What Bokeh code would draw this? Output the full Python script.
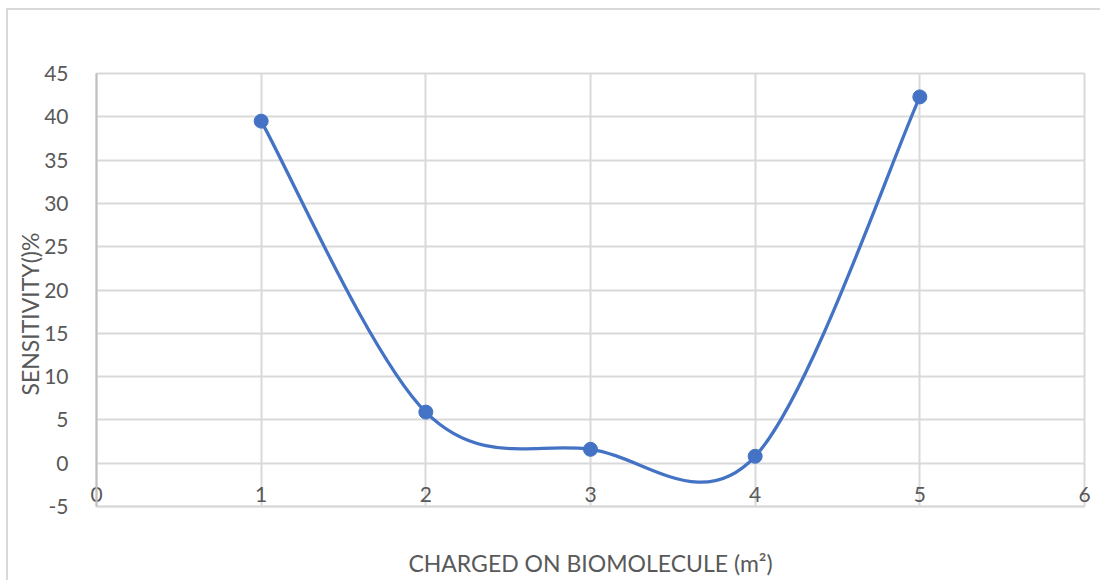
from bokeh.plotting import figure
from bokeh.models import Range1d, FixedTicker, Title
from bokeh.embed import file_html
from bokeh.resources import INLINE

# Sensitivity (%) against charge on the biomolecule
charge = [1, 2, 3, 4, 5]
sensitivity = [39.5, 5.9, 1.6, 0.8, 42.3]

x_ticks = [0, 1, 2, 3, 4, 5, 6]
y_ticks = [-5, 0, 5, 10, 15, 20, 25, 30, 35, 40, 45]

LINE = "#4472C4"
GRID = "#d9d9d9"
TEXT = "#595959"
FONT = "Lato"

p = figure(
    width=1094, height=572,
    x_range=Range1d(0, 6), y_range=Range1d(-5, 45),
    output_backend="svg", toolbar_location=None,
    min_border_left=88, min_border_top=63,
    min_border_right=18, min_border_bottom=76,
)
p.styles = {
    "margin-left": "6px", "margin-top": "8px",
    "border-left": f"2px solid {GRID}", "border-top": f"2px solid {GRID}",
}
p.outline_line_color = GRID
p.outline_line_width = 2

# smooth curve through the points (cardinal spline as cubic Beziers)
n = len(charge)
bx0, by0, bx1, by1, cx0, cy0, cx1, cy1 = ([] for _ in range(8))
for i in range(n - 1):
    a = max(i - 1, 0)
    b = min(i + 2, n - 1)
    bx0.append(charge[i]); by0.append(sensitivity[i])
    bx1.append(charge[i + 1]); by1.append(sensitivity[i + 1])
    cx0.append(charge[i] + (charge[i + 1] - charge[a]) / 6)
    cy0.append(sensitivity[i] + (sensitivity[i + 1] - sensitivity[a]) / 6)
    cx1.append(charge[i + 1] - (charge[b] - charge[i]) / 6)
    cy1.append(sensitivity[i + 1] - (sensitivity[b] - sensitivity[i]) / 6)

p.bezier(x0=bx0, y0=by0, x1=bx1, y1=by1, cx0=cx0, cy0=cy0, cx1=cx1, cy1=cy1,
         line_color=LINE, line_width=3.3)
p.scatter(charge, sensitivity, size=14, fill_color=LINE, line_color=LINE)

for g in (p.xgrid, p.ygrid):
    g.grid_line_color = GRID
    g.grid_line_width = 2
p.xgrid.ticker = FixedTicker(ticks=x_ticks)
p.ygrid.ticker = FixedTicker(ticks=y_ticks)

xa = p.xaxis[0]
ya = p.yaxis[0]
xa.ticker = FixedTicker(ticks=x_ticks)
ya.ticker = FixedTicker(ticks=y_ticks)
ya.major_label_overrides = {t: str(t) for t in y_ticks}
for ax in (xa, ya):
    ax.major_tick_line_color = None
    ax.minor_tick_line_color = None
    ax.major_label_text_font = FONT
    ax.major_label_text_font_size = "21px"
    ax.major_label_text_color = TEXT
    ax.axis_label_text_font = FONT
    ax.axis_label_text_font_size = "23px"
    ax.axis_label_text_font_style = "normal"
    ax.axis_label_text_color = TEXT
xa.axis_line_color = GRID
xa.axis_line_width = 2
ya.axis_line_color = "#bfbfbf"
ya.axis_line_width = 2

xa.axis_label = "CHARGED ON BIOMOLECULE (m²)"
xa.major_label_standoff = -26
xa.axis_label_standoff = 44
ya.major_label_standoff = 22

# vertical title, set a little below the middle of the plot area
p.add_layout(Title(
    text="SENSITIVITY()%", align="left", offset=111, standoff=-4,
    text_font=FONT, text_font_size="23px", text_font_style="normal",
    text_color=TEXT,
), "left")

open("out.html", "w").write(file_html(p, INLINE))
